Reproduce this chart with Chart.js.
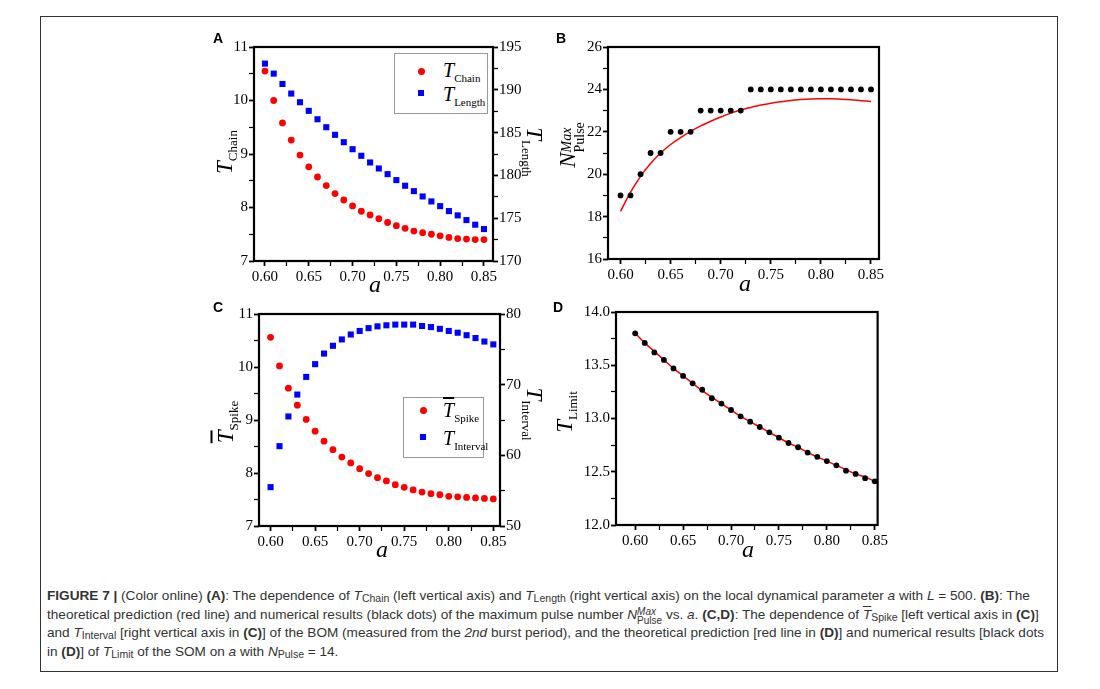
<!DOCTYPE html>
<html><head><meta charset="utf-8">
<script src="https://cdn.jsdelivr.net/npm/chart.js@4"></script>
<style>
html,body{margin:0;padding:0;background:#fff;}
#page{position:relative;width:1100px;height:689px;overflow:hidden;background:#fff;}
#frame{position:absolute;left:40px;top:16px;width:1018px;height:656px;border:1px solid #333;box-sizing:border-box;}
canvas{position:absolute;}
.pl{position:absolute;font:bold 14px 'Liberation Sans',Arial,sans-serif;color:#000;line-height:1;}
.ttl{position:absolute;font-family:'Liberation Serif','Times New Roman',serif;color:#000;white-space:nowrap;line-height:1;z-index:5;}
.ttl i{font-size:23px;}
.sb{font-size:13px;font-style:normal;position:relative;top:5px;}
.rotL{transform:translate(-50%,-50%) rotate(-90deg);}
.rotR{transform:translate(-50%,-50%) rotate(90deg);}
.ctr{transform:translate(-50%,-50%);}
.ax{font-size:24px;font-style:italic;}
.ss{display:inline-block;vertical-align:-9px;font-size:14px;line-height:13px;}
.ss span{display:block;}
.leg{position:absolute;border:1px solid #999;background:#fff;z-index:4;box-sizing:border-box;}
.mk{position:absolute;}
.lt{position:absolute;font-family:'Liberation Serif','Times New Roman',serif;white-space:nowrap;line-height:1;}
.lt i{font-size:20px;}
.lt .s{font-size:11px;position:relative;top:5px;}
#cap{position:absolute;left:47px;top:587px;font-family:'Liberation Sans',Arial,sans-serif;font-size:13.6px;color:#333;}
#cap .ln{height:18.7px;line-height:18.7px;white-space:nowrap;}
#cap sub{font-size:10.5px;vertical-align:-2px;line-height:0;}
#cap .cs{display:inline-block;vertical-align:-5px;font-size:10px;line-height:9px;}
#cap .cs span{display:block;}
.ov{text-decoration:overline;}
</style></head>
<body><div id="page">
<div id="frame"></div>
<canvas id="cA" width="350" height="265" style="left:200px;top:30px"></canvas>
<canvas id="cB" width="345" height="265" style="left:545px;top:30px"></canvas>
<canvas id="cC" width="350" height="265" style="left:200px;top:295px"></canvas>
<canvas id="cD" width="345" height="265" style="left:545px;top:295px"></canvas>

<div class="pl" style="left:213px;top:31px">A</div>
<div class="pl" style="left:556px;top:31px">B</div>
<div class="pl" style="left:213px;top:300px">C</div>
<div class="pl" style="left:553px;top:300px">D</div>

<!-- axis titles -->
<div class="ttl rotL" style="left:224px;top:152px"><i>T</i><span class="sb">Chain</span></div>
<div class="ttl rotR" style="left:534px;top:152px"><i>T</i><span class="sb">Length</span></div>
<div class="ttl ctr ax" style="left:375px;top:284px">a</div>

<div class="ttl rotL" style="left:571px;top:145px"><i>N</i><span class="ss"><span><i style="font-size:14px">Max</i></span><span>Pulse</span></span></div>
<div class="ttl ctr ax" style="left:745px;top:283px">a</div>

<div class="ttl rotL" style="left:225px;top:422px"><i class="ov">T</i><span class="sb">Spike</span></div>
<div class="ttl rotR" style="left:534px;top:414px"><i>T</i><span class="sb">Interval</span></div>
<div class="ttl ctr ax" style="left:382px;top:549px">a</div>

<div class="ttl rotL" style="left:564px;top:412px"><i>T</i><span class="sb">Limit</span></div>
<div class="ttl ctr ax" style="left:748px;top:549px">a</div>

<!-- legends -->
<div class="leg" style="left:394px;top:53px;width:94px;height:61px"></div>
<div class="mk" style="left:418px;top:68px;width:7px;height:7px;border-radius:50%;background:#f00;z-index:6"></div>
<div class="mk" style="left:418px;top:90px;width:6px;height:6px;background:#00f;z-index:6"></div>
<div class="lt" style="left:443px;top:60px;z-index:6"><i>T</i><span class="s">Chain</span></div>
<div class="lt" style="left:443px;top:84px;z-index:6"><i>T</i><span class="s">Length</span></div>

<div class="leg" style="left:403px;top:397px;width:81px;height:61px"></div>
<div class="mk" style="left:420px;top:407px;width:7px;height:7px;border-radius:50%;background:#f00;z-index:6"></div>
<div class="mk" style="left:420px;top:434px;width:6px;height:6px;background:#00f;z-index:6"></div>
<div class="lt" style="left:443px;top:400px;z-index:6"><i class="ov">T</i><span class="s">Spike</span></div>
<div class="lt" style="left:443px;top:428px;z-index:6"><i>T</i><span class="s">Interval</span></div>

<div id="cap">
<div class="ln"><b>FIGURE 7 |</b> (Color online) <b>(A)</b>: The dependence of <i>T</i><sub>Chain</sub> (left vertical axis) and <i>T</i><sub>Length</sub> (right vertical axis) on the local dynamical parameter <i>a</i> with <i>L</i> = 500. <b>(B)</b>: The</div>
<div class="ln">theoretical prediction (red line) and numerical results (black dots) of the maximum pulse number <i>N</i><span class="cs"><span><i>Max</i></span><span>Pulse</span></span> vs. <i>a</i>. <b>(C,D)</b>: The dependence of <i class="ov">T</i><sub>Spike</sub> [left vertical axis in <b>(C)</b>]</div>
<div class="ln">and <i>T</i><sub>Interval</sub> [right vertical axis in <b>(C)</b>] of the BOM (measured from the <i>2nd</i> burst period), and the theoretical prediction [red line in <b>(D)</b>] and numerical results [black dots</div>
<div class="ln">in <b>(D)</b>] of <i>T</i><sub>Limit</sub> of the SOM on <i>a</i> with <i>N</i><sub>Pulse</sub> = 14.</div>
</div>
</div>

<script>
// ---- data ----
const aValues = [0.60,0.61,0.62,0.63,0.64,0.65,0.66,0.67,0.68,0.69,0.70,0.71,0.72,0.73,0.74,0.75,0.76,0.77,0.78,0.79,0.80,0.81,0.82,0.83,0.84,0.85];
const tChain = [10.55,10.00,9.58,9.26,8.98,8.76,8.57,8.41,8.26,8.14,8.03,7.93,7.86,7.79,7.72,7.66,7.61,7.56,7.53,7.50,7.47,7.44,7.42,7.41,7.40,7.40];
const tLength = [193.06,191.89,190.68,189.56,188.55,187.54,186.56,185.63,184.74,183.88,183.06,182.29,181.51,180.81,180.15,179.45,178.79,178.16,177.54,176.96,176.41,175.83,175.33,174.78,174.24,173.73];
const nPulseNumeric = [19,19,20,21,21,22,22,22,23,23,23,23,23,24,24,24,24,24,24,24,24,24,24,24,24,24];
const nPulseTheory = [18.25,19.15,19.9,20.5,21.0,21.4,21.73,22.02,22.28,22.5,22.7,22.88,23.03,23.15,23.26,23.35,23.42,23.48,23.52,23.55,23.56,23.56,23.54,23.51,23.47,23.43];
const tSpike = [10.56,10.02,9.60,9.28,9.01,8.79,8.60,8.44,8.30,8.19,8.08,7.99,7.91,7.85,7.78,7.73,7.68,7.64,7.61,7.59,7.56,7.55,7.54,7.53,7.52,7.51];
const tInterval = [55.5,61.3,65.5,68.6,71.1,72.9,74.4,75.5,76.4,77.1,77.6,78.0,78.25,78.4,78.5,78.5,78.5,78.3,78.15,77.9,77.6,77.35,77.0,76.6,76.1,75.7];
const tLimitNumeric = [13.80,13.71,13.62,13.55,13.47,13.40,13.33,13.27,13.19,13.14,13.08,13.02,12.97,12.92,12.87,12.82,12.77,12.73,12.68,12.64,12.60,12.56,12.51,12.48,12.44,12.41];
const tLimitTheory = [13.80,13.71,13.63,13.55,13.47,13.40,13.33,13.26,13.20,13.14,13.08,13.02,12.97,12.92,12.87,12.82,12.77,12.73,12.68,12.64,12.60,12.56,12.52,12.48,12.45,12.41];
const xTickValues = [0.600,0.625,0.650,0.675,0.700,0.725,0.750,0.775,0.800,0.825,0.850];

// ---- helpers ----
const pts = ys => aValues.map((a,i)=>({x:a,y:ys[i]}));
const isMajor = (v,step) => Math.abs(v/step - Math.round(v/step)) < 1e-6;
const tickFont = {family:"'Liberation Serif','Times New Roman',serif", size:15};

function xScale(min,max,h){
  return {type:'linear',position:'bottom',min,max,
    afterBuildTicks:s=>{s.ticks = xTickValues.map(v=>({value:v}));},
    afterFit:s=>{s.height=h;},
    ticks:{autoSkip:false,maxRotation:0,padding:2,color:'#000',font:tickFont,
      callback:v=>isMajor(v,0.05)?v.toFixed(2):''},
    grid:{drawOnChartArea:false,drawTicks:true,tickLength:5,tickColor:'#000',
      tickWidth:c=>(c.tick&&isMajor(c.tick.value,0.05))?1.8:1.2},
    border:{display:false}};
}
function yScale(pos,min,max,step,major,dec,w){
  return {type:'linear',position:pos,min,max,
    afterFit:s=>{s.width=w;},
    ticks:{stepSize:step,autoSkip:false,padding:1,color:'#000',font:tickFont,
      callback:v=>isMajor(v,major)?(dec?v.toFixed(dec):String(v)):''},
    grid:{drawOnChartArea:false,drawTicks:true,tickLength:5,tickColor:'#000',
      tickWidth:c=>(c.tick&&isMajor(c.tick.value,major))?1.8:1.2},
    border:{display:false}};
}
const framePlugin = {id:'frame',afterDraw(chart){
  const {ctx,chartArea:a}=chart; ctx.save(); ctx.strokeStyle='#000'; ctx.lineWidth=2.2;
  ctx.strokeRect(a.left,a.top,a.right-a.left,a.bottom-a.top); ctx.restore();}};
function baseOpts(pad){
  return {responsive:false,animation:false,devicePixelRatio:1,
    layout:{padding:pad},
    plugins:{legend:{display:false},tooltip:{enabled:false}}};
}

// ---- A ----
new Chart(document.getElementById('cA'),{type:'scatter',
  data:{datasets:[
    {label:'T Chain',data:pts(tChain),yAxisID:'y',pointStyle:'circle',pointRadius:3.4,pointBackgroundColor:'#f00',pointBorderWidth:0},
    {label:'T Length',data:pts(tLength),yAxisID:'y2',pointStyle:'rect',pointRadius:4.3,pointBackgroundColor:'#00f',pointBorderWidth:0}]},
  options:Object.assign(baseOpts({top:17,left:0,right:0,bottom:0}),{scales:{
    x:xScale(0.5875,0.8603,34),
    y:yScale('left',7,11,0.5,1,0,54),
    y2:yScale('right',170,195,2.5,5,0,57)}}),
  plugins:[framePlugin]});

// ---- B ----
new Chart(document.getElementById('cB'),{type:'scatter',
  data:{datasets:[
    {label:'Numerical',data:pts(nPulseNumeric),order:0,pointStyle:'circle',pointRadius:2.9,pointBackgroundColor:'#000',pointBorderWidth:0},
    {type:'line',label:'Theory',data:pts(nPulseTheory),order:1,showLine:true,borderColor:'#f00',borderWidth:1.5,pointRadius:0,cubicInterpolationMode:'monotone',fill:false}]},
  options:Object.assign(baseOpts({top:17,left:0,right:11,bottom:0}),{scales:{
    x:xScale(0.5875,0.858,36),
    y:yScale('left',16,26,1,2,0,63)}}),
  plugins:[framePlugin]});

// ---- C ----
new Chart(document.getElementById('cC'),{type:'scatter',
  data:{datasets:[
    {label:'T Spike',data:pts(tSpike),yAxisID:'y',pointStyle:'circle',pointRadius:3.4,pointBackgroundColor:'#f00',pointBorderWidth:0},
    {label:'T Interval',data:pts(tInterval),yAxisID:'y2',pointStyle:'rect',pointRadius:4.3,pointBackgroundColor:'#00f',pointBorderWidth:0}]},
  options:Object.assign(baseOpts({top:19,left:0,right:0,bottom:0}),{scales:{
    x:xScale(0.587,0.8575,34),
    y:yScale('left',7,11,0.5,1,0,59),
    y2:yScale('right',50,80,5,10,0,50)}}),
  plugins:[framePlugin]});

// ---- D ----
new Chart(document.getElementById('cD'),{type:'scatter',
  data:{datasets:[
    {label:'Numerical',data:pts(tLimitNumeric),order:0,pointStyle:'circle',pointRadius:2.9,pointBackgroundColor:'#000',pointBorderWidth:0},
    {type:'line',label:'Theory',data:pts(tLimitTheory),order:1,showLine:true,borderColor:'#f00',borderWidth:1.5,pointRadius:0,cubicInterpolationMode:'monotone',fill:false}]},
  options:Object.assign(baseOpts({top:17,left:0,right:11,bottom:0}),{scales:{
    x:xScale(0.58,0.853,35),
    y:yScale('left',12,14,0.25,0.5,1,71)}}),
  plugins:[framePlugin]});
</script>
</body></html>
